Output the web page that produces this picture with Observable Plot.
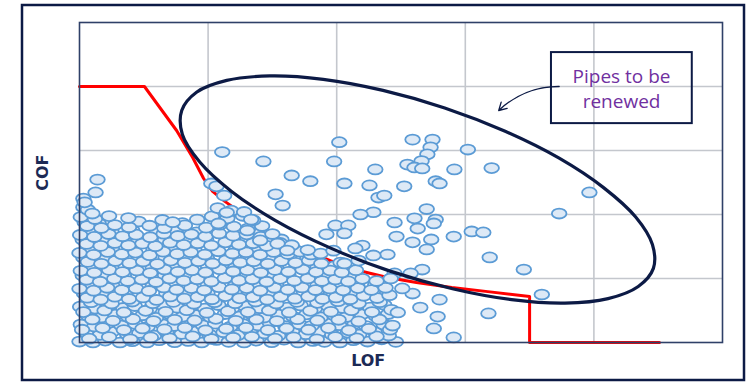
<!DOCTYPE html>
<html><head><meta charset="utf-8">
<script src="https://cdn.jsdelivr.net/npm/d3@7"></script>
<script src="https://cdn.jsdelivr.net/npm/@observablehq/plot@0.6"></script>
<style>
html,body{margin:0;padding:0;background:#fff;}
#chart{position:relative;width:748px;height:383px;}
</style></head><body><div id="chart"></div>
<script>
// ---- data (LOF = likelihood of failure, COF = consequence of failure, 0–100 scores) ----
const gridTicks = [20, 40, 60, 80];

// dense cluster of pipes (LOF, COF)
const clusterLow = [
[0,0.3],[2.1,0],[4.0,0.6],[6.3,0],[8.2,0.4],[10.5,0],[12.4,0.7],[14.8,0.1],[16.9,0.5],[19.0,0],[21.3,0.8],[23.2,0.2],[25.6,0],[27.5,0.6],[29.9,0.1],[31.8,0.9],[34.0,0],[36.3,0.5],[38.1,0.2],[40.5,0],[42.6,0.7],[44.8,0.3],[47.0,1.0],[49.2,0.2],
[1.0,3.1],[3.2,2.4],[5.1,3.4],[7.4,2.6],[9.3,3.0],[11.6,2.2],[13.5,3.3],[15.9,2.7],[18.1,3.5],[20.2,2.5],[22.4,3.2],[24.6,2.3],[26.5,3.6],[28.8,2.8],[30.9,2.1],[33.1,3.3],[35.2,2.6],[37.4,3.4],[39.3,2.4],[41.7,3.1],[43.5,2.5],[45.9,3.3],[48.1,2.2],
[0.2,5.6],[2.3,5.0],[4.4,6.0],[6.5,5.3],[8.7,5.8],[10.6,4.9],[12.9,5.7],[14.7,5.2],[17.0,6.1],[19.2,5.4],[21.1,5.9],[23.5,5.0],[25.4,5.8],[27.8,5.3],[29.6,6.2],[32.0,5.1],[34.2,5.7],[36.1,5.2],[38.5,6.0],[40.4,5.4],[42.8,5.9],[44.6,5.1],[47.3,5.6],
[1.3,8.4],[3.4,7.8],[5.6,8.7],[7.6,8.0],[9.8,8.5],[11.9,7.7],[14.0,8.8],[16.1,8.1],[18.3,8.6],[20.4,7.9],[22.6,8.9],[24.5,8.2],[26.9,8.6],[28.7,7.8],[31.0,8.7],[33.2,8.1],[35.3,8.8],[37.5,7.9],[39.6,8.5],[41.5,8.0],[43.9,8.8],[46.1,8.2],[48.0,8.9],
[0.1,11.2],[2.4,10.6],[4.5,11.5],[6.8,10.8],[8.6,11.4],[10.9,10.5],[13.0,11.6],[15.2,10.9],[17.3,11.3],[19.5,10.6],[21.6,11.7],[23.8,10.8],[25.7,11.4],[28.0,10.7],[30.1,11.5],[32.3,10.9],[34.4,11.6],[36.6,10.6],[38.7,11.3],[40.9,10.8],[43.0,11.5],[45.2,10.9],[47.4,11.8]
];
const clusterMid = [
[1.2,14.0],[3.3,13.4],[5.5,14.3],[7.7,13.6],[9.9,14.1],[12.0,13.3],[14.1,14.4],[16.3,13.7],[18.4,14.2],[20.6,13.5],[22.7,14.5],[24.9,13.8],[27.0,14.2],[29.2,13.4],[31.3,14.3],[33.5,13.7],[35.6,14.4],[37.8,13.6],[39.9,14.1],[42.1,13.5],[44.2,14.6],[46.3,13.9],[48.2,14.8],
[0,16.8],[2.2,16.2],[4.3,17.1],[6.6,16.4],[8.8,16.9],[10.8,16.1],[13.1,17.2],[15.1,16.5],[17.4,17.0],[19.4,16.3],[21.7,17.3],[23.7,16.6],[26.0,17.0],[28.1,16.2],[30.3,17.1],[32.4,16.5],[34.6,17.2],[36.7,16.4],[38.9,16.9],[41.0,16.3],[43.3,17.0],[45.4,16.4],[47.6,17.1],
[1.1,19.6],[3.2,19.0],[5.4,19.9],[7.5,19.2],[9.7,19.7],[11.9,18.9],[14.0,20.0],[16.2,19.3],[18.3,19.8],[20.5,19.1],[22.6,20.1],[24.8,19.4],[26.9,19.8],[29.1,19.0],[31.2,19.9],[33.4,19.3],[35.5,20.0],[37.7,19.2],[39.8,19.7],[41.8,19.1],[44.0,19.9],[46.2,19.2],
[0.2,22.4],[2.3,21.8],[4.6,22.7],[6.7,22.0],[8.9,22.5],[11.0,21.7],[13.2,22.8],[15.3,22.1],[17.5,22.6],[19.6,21.9],[21.8,22.9],[23.9,22.2],[26.1,22.6],[28.2,21.8],[30.4,22.7],[32.5,22.1],[34.7,22.8],[36.8,22.0],[39.0,22.5],[40.8,21.9],[43.0,22.6],
[1.3,25.2],[3.4,24.6],[5.6,25.5],[7.8,24.8],[9.9,25.3],[12.1,24.5],[14.2,25.6],[16.4,24.9],[18.5,25.4],[20.7,24.7],[22.8,25.7],[25.0,25.0],[27.1,25.4],[29.3,24.6],[31.4,25.5],[33.6,24.9],[35.7,25.6],[37.6,24.7]
];
const clusterHigh = [
[0,28.0],[2.2,27.4],[4.4,28.3],[6.6,27.6],[8.7,28.1],[10.9,27.3],[13.0,28.4],[15.2,27.7],[17.3,28.2],[19.5,27.5],[21.6,28.5],[23.8,27.8],[25.9,28.2],[28.1,27.4],[30.2,28.3],[32.4,27.7],[34.3,28.4],[36.0,27.5],
[1.1,30.8],[3.3,30.2],[5.5,31.1],[7.6,30.4],[9.8,30.9],[11.8,30.1],[14.1,31.2],[16.2,30.5],[18.4,31.0],[20.5,30.3],[22.7,31.3],[24.8,30.6],[27.0,31.0],[29.1,30.2],[31.2,31.1],[33.0,30.4],
[0.1,33.6],[2.3,33.0],[4.5,33.9],[6.7,33.2],[8.8,33.7],[11.0,32.9],[13.1,34.0],[15.3,33.3],[17.4,33.8],[19.6,33.1],[21.7,34.1],[23.9,33.4],[26.0,33.8],[28.2,33.0],[30.0,33.9],
[1.2,36.4],[3.4,35.8],[5.5,36.7],[7.7,36.0],[10.9,36.5],[13.2,35.7],[16.4,36.6],[19.7,35.9],[21.8,36.8],[24.0,36.2],[26.2,35.6],[28.4,36.4],
[0.2,39.2],[2.4,38.6],[4.6,39.5],[7.6,38.9],[12.9,38.3],[14.5,37.6],[18.3,38.4],[20.6,39.4],[23.0,38.8],[25.4,39.6],[27.0,38.2],
[0.6,42.3],[1.3,41.5],[2.0,40.3],[21.5,42.0],[23.6,41.2],[25.6,40.8],
[2.8,50.9],[2.5,46.9],[0.6,45.0],[0.8,43.8]
];
// second layer of the dense cluster (overlapping pipes)
const clusterFill = [
[1.5,1.2],[4.6,1.7],[7.9,1.0],[11.1,1.6],[14.0,1.3],[17.6,1.9],[20.5,1.1],[23.9,1.5],[26.8,1.8],[30.4,1.2],[33.3,1.6],[36.9,1.0],[39.8,1.7],[43.1,1.3],[46.2,1.9],
[0.4,4.0],[3.6,4.5],[6.9,3.9],[9.8,4.4],[13.2,4.1],[16.4,4.6],[19.6,3.8],[22.8,4.3],[25.9,4.6],[29.3,3.9],[32.2,4.4],[35.6,4.0],[38.7,4.5],[41.9,3.8],[45.0,4.3],[48.3,4.0],
[2.0,7.2],[5.2,6.8],[8.3,7.3],[11.5,6.7],[14.8,7.1],[17.9,6.9],[21.2,7.4],[24.3,6.8],[27.5,7.2],[30.7,6.7],[33.9,7.3],[37.0,6.9],[40.3,7.1],[43.4,6.6],[46.6,7.2],
[0.6,9.5],[3.9,10.0],[6.9,9.4],[10.3,9.9],[13.4,9.6],[16.7,10.1],[19.8,9.3],[23.1,9.8],[26.2,9.5],[29.5,10.0],[32.6,9.4],[35.9,9.9],[39.1,9.6],[42.3,10.1],[45.5,9.5],[48.5,10.2],
[1.8,12.6],[5.0,12.2],[8.2,12.8],[11.4,12.3],[14.6,12.7],[17.8,12.1],[21.0,12.6],[24.2,12.3],[27.4,12.8],[30.6,12.2],[33.8,12.7],[37.0,12.4],[40.2,12.9],[43.4,12.2],[46.7,12.6],
[0.7,15.3],[3.8,14.9],[7.1,15.5],[10.2,15.0],[13.5,15.4],[16.6,14.9],[19.9,15.5],[23.0,15.1],[26.3,15.4],[29.4,14.9],[32.7,15.5],[35.8,15.0],[39.1,15.4],[42.2,15.1],[45.0,15.6],[47.8,15.2],
[1.9,18.1],[5.1,17.7],[8.3,18.3],[11.4,17.8],[14.7,18.2],[17.8,17.6],[21.1,18.1],[24.2,17.8],[27.5,18.3],[30.6,17.7],[33.9,18.2],[37.0,17.8],[40.2,18.3],[43.2,17.7],[46.0,18.1],
[0.5,20.9],[3.7,20.5],[6.9,21.1],[10.1,20.6],[13.3,21.0],[16.5,20.4],[19.7,20.9],[22.9,20.6],[26.1,21.1],[29.3,20.5],[32.5,21.0],[35.7,20.6],[38.8,21.1],[42.0,20.7],
[1.8,23.7],[5.0,23.3],[8.2,23.9],[11.4,23.4],[14.6,23.8],[17.8,23.2],[21.0,23.7],[24.2,23.4],[27.4,23.9],[30.6,23.3],[33.8,23.8],[37.0,23.4],[39.7,23.9],
[0.6,26.5],[3.8,26.1],[7.0,26.7],[10.2,26.2],[13.4,26.6],[16.6,26.0],[19.8,26.5],[23.0,26.2],[26.2,26.7],[29.4,26.1],[32.6,26.6],[35.4,26.2],
[1.9,29.3],[5.1,28.9],[8.3,29.5],[11.5,29.0],[14.7,29.4],[17.9,28.8],[21.1,29.3],[24.3,29.0],[27.5,29.5],[30.7,28.9],[33.3,29.3],
[0.5,32.1],[3.7,31.7],[6.9,32.3],[10.1,31.8],[13.3,32.2],[16.5,31.6],[19.7,32.1],[22.9,31.8],[26.1,32.3],[29.3,31.7],[31.4,32.2],
[1.8,34.9],[5.0,34.5],[8.2,35.1],[12.0,34.6],[15.0,35.0],[18.2,34.4],[21.0,34.9],[24.5,34.6],[27.6,35.0],
[0.8,37.6],[3.0,37.2],[9.2,37.8],[16.0,37.3],[22.3,37.7]
];
// scattered pipes, higher risk
const scatterUpper = [
[40.4,62.6],[51.8,63.4],[54.9,63.4],[54.6,61.0],[54.1,58.8],[60.4,60.3],[22.2,59.5],[28.6,56.6],[39.6,56.6],[53.2,56.7],
[51.0,55.6],[52.1,54.7],[53.3,54.4],[46.0,54.1],[58.3,54.1],[64.1,54.5],[33.0,52.2],[35.9,50.4],[41.2,49.7],[45.1,49.1],
[50.5,48.8],[55.4,50.4],[56.0,49.7],[20.5,49.7],[21.3,48.8],[22.5,45.9],[30.5,46.3],[31.6,42.8],[46.5,45.3],[47.4,45.9],
[79.3,46.9],[54.0,41.7],[45.7,40.7],[43.7,40.0],[74.6,40.3],[22.9,40.6]
];
const scatterMid = [
[26.7,38.4],[39.8,36.6],[41.8,36.6],[41.2,34.1],[38.4,33.8],[49.0,37.5],[52.1,38.8],[55.4,38.4],[55.1,37.2],[52.6,35.6],
[49.3,33.1],[58.2,33.1],[61.0,34.7],[62.8,34.4],[54.7,32.2],[51.8,31.3],[54.0,29.1],[47.9,27.5],[44.0,30.3],[42.9,29.4],
[45.7,27.2],[63.8,26.6],[69.1,22.8],[53.3,22.8],[49.0,21.6],[51.5,21.6],[48.4,20.0],[71.9,15.0],[56.0,13.4],[63.6,9.1],
[58.2,1.6],[55.7,8.1],[55.1,4.4],[53.0,10.9],[51.8,15.3],[50.2,16.9],[49.5,9.4],[48.7,5.3],[40.6,25.0],[41.2,24.7],
[43.4,25.6],[37.5,27.8],[39.5,28.7],[35.5,28.9],[21.6,37.2],[26.1,35.0],[28.1,31.9],[30.8,30.9],[32.3,28.75]
];

// red threshold line
const thresholdLof = [0, 10.1, 15.1, 17.6, 19.3, 20.7, 22.6, 24.6, 26.6, 29.2, 32.3, 34.4, 39.0, 43.4, 47.9, 52.4, 57.9, 63.5, 70.0, 70.0, 90.2];
const thresholdCof = [80, 80, 66.25, 57.8, 51.25, 47.2, 44.1, 41.25, 38.75, 35.0, 31.25, 29.4, 25.6, 22.5, 20.3, 18.75, 17.2, 15.9, 14.4, 0, 0];

// highlight ellipse outline
const ringLof = [89.25, 86.9, 82.2, 75.5, 67.2, 58.0, 48.3, 38.98, 30.5, 23.6, 18.7, 16.0, 15.9, 18.2, 22.9, 29.6, 37.9, 47.2, 56.8, 66.2, 74.6, 81.5, 86.5, 89.1];
const ringCof = [23.16, 17.5, 13.7, 12.3, 13.4, 16.8, 22.3, 29.56, 38.1, 47.3, 56.4, 65.0, 72.5, 78.2, 81.9, 83.3, 82.25, 78.8, 73.3, 66.0, 57.6, 48.4, 39.2, 30.6];

// annotation
const noteText = "Pipes to be\nrenewed";
const noteBox = {x1: 73.4, x2: 95.3, y1: 68.4, y2: 90.6};
const noteAnchor = {lof: 84.3, cof: 79.6};
const noteArrow = {x1: 74.6, y1: 80.0, x2: 65.2, y2: 72.5};
const axisLabels = [
  {text: "COF", lof: -5.75, cof: 53.1, rotate: -90},
  {text: "LOF", lof: 44.9, cof: -5.6, rotate: 0}
];

// ---- build tables ----
const toPts = (arr) => arr.map(([lof, cof]) => ({lof, cof}));
const pipes = [...toPts(clusterLow), ...toPts(clusterFill), ...toPts(clusterMid), ...toPts(clusterHigh), ...toPts(scatterUpper), ...toPts(scatterMid)];
const threshold = thresholdLof.map((lof, i) => ({lof, cof: thresholdCof[i]}));
const ring = ringLof.map((lof, i) => ({lof, cof: ringCof[i]}));

const ellipseSymbol = {
  draw(ctx, size) {
    const rx = Math.sqrt(size / Math.PI), ry = rx * 0.68, k = 0.5523;
    ctx.moveTo(rx, 0);
    ctx.bezierCurveTo(rx, k * ry, k * rx, ry, 0, ry);
    ctx.bezierCurveTo(-k * rx, ry, -rx, k * ry, -rx, 0);
    ctx.bezierCurveTo(-rx, -k * ry, -k * rx, -ry, 0, -ry);
    ctx.bezierCurveTo(k * rx, -ry, rx, -k * ry, rx, 0);
    ctx.closePath();
  }
};

const navy = "#0c1a45";
const chart = Plot.plot({
  width: 748,
  height: 383,
  marginLeft: 79, marginRight: 26, marginTop: 22, marginBottom: 41,
  x: {domain: [0, 100], axis: null},
  y: {domain: [0, 100], axis: null},
  style: {background: "white", fontFamily: "'Open Sans', sans-serif"},
  marks: [
    Plot.gridX(gridTicks, {stroke: "#c4c7cd", strokeOpacity: 1, strokeWidth: 1.6}),
    Plot.gridY(gridTicks, {stroke: "#c4c7cd", strokeOpacity: 1, strokeWidth: 1.6}),
    Plot.line(threshold, {x: "lof", y: "cof", stroke: "#ff0000", strokeWidth: 3, curve: "linear"}),
    Plot.dot(pipes, {x: "lof", y: "cof", r: 7.3, symbol: ellipseSymbol, fill: "#dde9f6", stroke: "#5b9bd5", strokeWidth: 1.8}),
    Plot.frame({stroke: "#2f4068", strokeWidth: 1.6}),
    Plot.line(ring, {x: "lof", y: "cof", curve: "catmull-rom-closed", stroke: navy, strokeWidth: 3.2}),
    Plot.rect([noteBox], {x1: "x1", x2: "x2", y1: "y1", y2: "y2", fill: "none", stroke: navy, strokeWidth: 2}),
    Plot.text([noteAnchor], {x: "lof", y: "cof", text: () => noteText, fill: "#7030a0", fontSize: 19, lineHeight: 1.3, fontFamily: "'Open Sans', sans-serif"}),
    Plot.arrow([noteArrow], {x1: "x1", y1: "y1", x2: "x2", y2: "y2", bend: -22, stroke: navy, strokeWidth: 1.3, headLength: 10}),
    Plot.text(axisLabels, {x: "lof", y: "cof", text: "text", rotate: "rotate", fill: "#1c2a55", fontSize: 16, fontWeight: "bold", fontFamily: "'DejaVu Sans', sans-serif"})
  ]
});

d3.select(chart).append("rect")
  .attr("x", 22).attr("y", 5).attr("width", 722).attr("height", 375)
  .attr("fill", "none").attr("stroke", navy).attr("stroke-width", 2.5);

document.getElementById("chart").appendChild(chart);
</script></body></html>
